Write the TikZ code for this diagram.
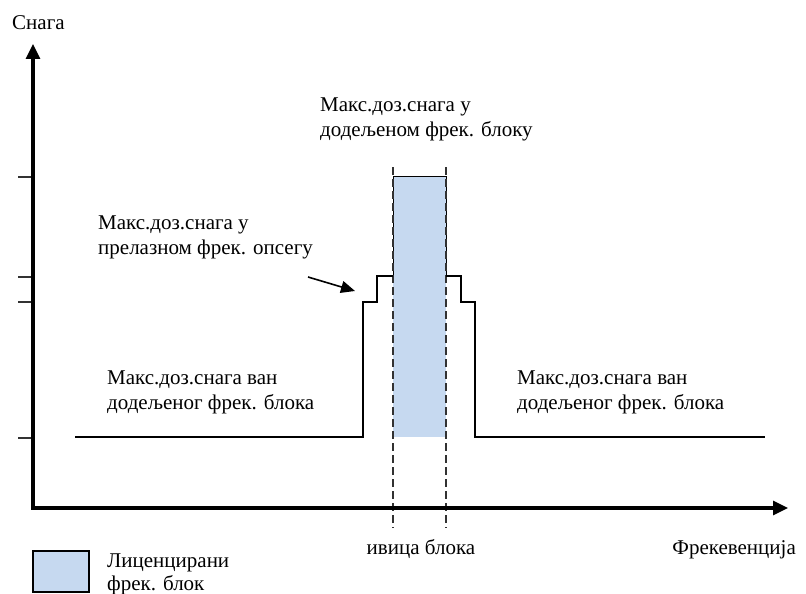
\documentclass[tikz,border=0pt]{standalone}
\usepackage{fontspec}
\setmainfont{Liberation Serif}
\usetikzlibrary{arrows.meta}
\definecolor{blockblue}{RGB}{198,217,240}
\definecolor{dashgray}{RGB}{50,50,50}
\tikzset{
  lbl/.style={font=\fontsize{21}{25}\selectfont, inner sep=0pt, anchor=base west},
  axisline/.style={line width=3.2pt, -{Triangle[length=15pt,width=14pt]}},
  stepline/.style={line width=2pt, line join=miter},
  edgedash/.style={line width=1.3pt, dashgray, dash pattern=on 8pt off 4pt},
  tickline/.style={line width=1.3pt, dashgray},
  pointer/.style={line width=1.6pt, -{Triangle[length=14pt,width=12pt]}},
}
\begin{document}
\begin{tikzpicture}[x=1pt,y=-1pt]
\useasboundingbox (0,0) rectangle (806,594);
% licensed block
\fill[blockblue] (393,176) rectangle (446,437);
% block outline above the steps
\draw[line width=1pt] (393,276) -- (393,176) -- (446,176) -- (446,276);
% block edges
\draw[edgedash] (393,167) -- (393,528);
\draw[edgedash] (446,167) -- (446,528);
% mask
\draw[stepline] (75,437) -- (363,437) -- (363,302) -- (377,302) -- (377,276) -- (393,276);
\draw[stepline] (446,276) -- (461,276) -- (461,302) -- (475,302) -- (475,437) -- (765,437);
% ticks
\foreach \yy in {177,277,302,438} \draw[tickline] (18,\yy) -- (32,\yy);
% axes
\coordinate (O) at (33,508);
\coordinate (ytop) at (33,44);
\coordinate (xend) at (788,508);
\draw[axisline] (33,509.6) -- (ytop);
\draw[axisline] (31.4,508) -- (xend);
% labels
\node[lbl] (snaga) at (12,30) {Снага};
\node[lbl] (blk1) at (320,111) {Макс.доз.снага у};
\node[lbl] (blk2) at (320,136) {додељеном фрек. блоку};
\node[lbl] (tr1) at (98,229) {Макс.доз.снага у};
\node[lbl] (tr2) at (98,254) {прелазном фрек. опсегу};
\node[lbl] (out1) at (107,384) {Макс.доз.снага ван};
\node[lbl] (out2) at (107,409) {додељеног фрек. блока};
\node[lbl] (outr1) at (517,384) {Макс.доз.снага ван};
\node[lbl] (outr2) at (517,409) {додељеног фрек. блока};
\node[lbl, anchor=base] (ivica) at (421,554) {ивица блока};
\node[lbl, anchor=base east] (frek) at (796,554) {Фрекевенција};
\node[lbl] (leg1) at (107,567) {Лиценцирани};
\node[lbl] (leg2) at (107,590) {фрек. блок};
% pointer
\coordinate (pstart) at (308,277);
\coordinate (pend) at (355,291);
\draw[pointer] (pstart) -- (pend);
% legend box
\draw[line width=1.3pt, fill=blockblue] (33,551) rectangle (89,592);
\end{tikzpicture}
\end{document}
